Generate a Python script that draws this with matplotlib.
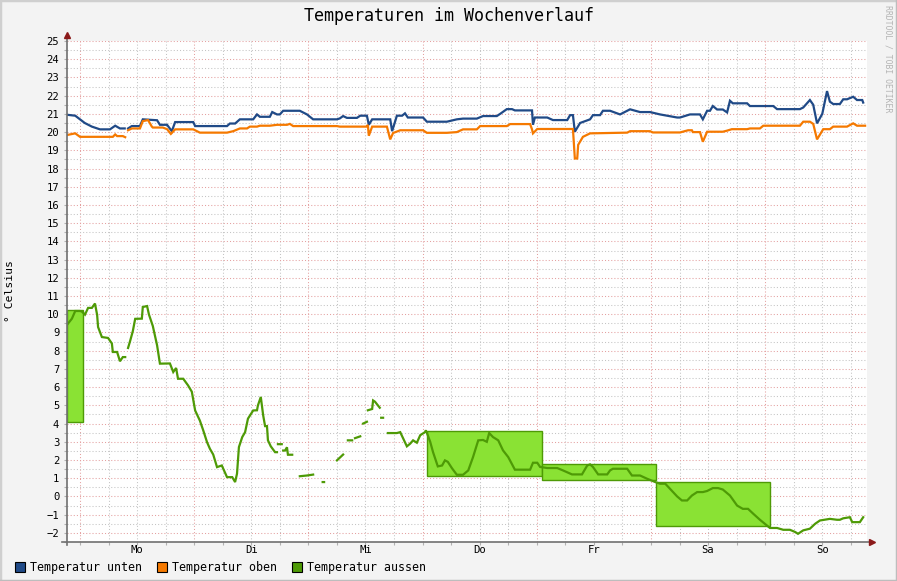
import numpy as np
import matplotlib

matplotlib.use("Agg")

import matplotlib.pyplot as plt  # noqa: E402
from matplotlib.patches import Rectangle  # noqa: E402
from matplotlib.lines import Line2D  # noqa: E402

nan = np.nan

# time axis: hours since Monday 00:00
x_start, x_end = -2.73, 165.4
days = ["Mo", "Di", "Mi", "Do", "Fr", "Sa", "So"]

# (hour, deg C)
unten = [
    (-2.7, 20.95), (-1.0, 20.9), (0.0, 20.7), (1.0, 20.5), (2.5, 20.3), (4.2, 20.15),
    (6.3, 20.15), (7.4, 20.35), (8.4, 20.2), (9.4, 20.2), (9.8, nan), (10.1, 20.2),
    (10.9, 20.33), (12.6, 20.33), (13.2, 20.7), (16.2, 20.65), (16.8, 20.4), (18.3, 20.4),
    (19.3, 20.05), (20.0, 20.55), (23.8, 20.55), (24.2, 20.33), (30.9, 20.33), (31.5, 20.47),
    (32.6, 20.47), (33.6, 20.7), (36.4, 20.7), (37.2, 20.97), (37.8, 20.84), (39.9, 20.84),
    (40.4, 21.1), (41.4, 20.97), (42.0, 20.97), (42.7, 21.17), (46.2, 21.17), (47.7, 20.97),
    (49.0, 20.7), (54.0, 20.7), (54.6, 20.75), (55.3, 20.88), (56.1, 20.78), (58.2, 20.78),
    (58.9, 20.9), (60.3, 20.9), (60.7, 20.4), (61.4, 20.7), (64.5, 20.7), (65.2, 20.7),
    (65.6, 20.05), (66.6, 20.9), (67.7, 20.9), (68.3, 21.03), (68.9, 20.8), (72.1, 20.8),
    (72.9, 20.57), (77.1, 20.57), (79.2, 20.7), (80.5, 20.74), (83.4, 20.74), (84.7, 20.88),
    (87.6, 20.88), (88.3, 21.0), (89.7, 21.26), (90.8, 21.26), (91.4, 21.19), (95.0, 21.19),
    (95.2, 20.4), (95.6, 20.8), (98.2, 20.8), (99.4, 20.66), (102.4, 20.66), (103.0, 20.93),
    (103.6, 20.93), (104.0, 20.02), (105.1, 20.5), (107.2, 20.7), (107.8, 20.93), (109.3, 20.93),
    (109.9, 21.17), (111.4, 21.17), (113.5, 20.97), (115.6, 21.25), (117.7, 21.1), (119.8, 21.1),
    (121.9, 20.97), (125.5, 20.8), (126.1, 20.8), (128.2, 20.97), (130.3, 20.97), (130.9, 20.7),
    (131.8, 21.17), (132.4, 21.17), (133.0, 21.43), (133.9, 21.24), (135.1, 21.24), (136.0, 21.08),
    (136.6, 21.72), (137.2, 21.58), (140.2, 21.58), (140.8, 21.43), (145.7, 21.43), (146.5, 21.26),
    (151.3, 21.26), (152.0, 21.35), (153.4, 21.76), (154.1, 21.5), (154.9, 20.48), (156.0, 21.0),
    (157.0, 22.25), (157.6, 21.67), (158.3, 21.54), (159.7, 21.54), (160.4, 21.8), (161.2, 21.8),
    (162.5, 21.94), (163.3, 21.76), (164.4, 21.76), (164.6, 21.62),
]

oben = [
    (-2.7, 19.84), (-1.0, 19.93), (0.0, 19.74), (6.9, 19.74), (7.4, 19.87), (7.8, 19.78),
    (9.0, 19.78), (9.5, 19.72), (9.8, nan), (10.1, 20.1), (10.9, 20.2), (12.6, 20.2),
    (13.2, 20.6), (14.3, 20.66), (15.1, 20.3), (15.3, 20.25), (17.4, 20.25), (18.3, 20.16),
    (19.1, 19.9), (20.0, 20.15), (23.8, 20.15), (25.2, 19.97), (30.9, 19.97), (32.2, 20.05),
    (33.6, 20.2), (35.1, 20.2), (35.7, 20.3), (37.2, 20.3), (37.8, 20.35), (39.9, 20.35),
    (41.4, 20.4), (43.5, 20.4), (44.1, 20.45), (44.8, 20.33), (54.0, 20.33), (54.6, 20.3),
    (60.3, 20.3), (60.5, 20.4), (60.7, 19.8), (61.4, 20.3), (64.5, 20.3), (65.2, 19.6),
    (65.8, 19.95), (67.3, 20.1), (72.1, 20.1), (72.9, 19.96), (77.1, 19.96), (79.2, 20.0),
    (80.5, 20.15), (83.4, 20.15), (84.1, 20.33), (89.7, 20.33), (90.4, 20.44), (94.6, 20.44),
    (95.0, 20.15), (95.2, 19.93), (96.1, 20.17), (103.6, 20.17), (104.0, 18.55), (104.5, 18.55),
    (104.7, 19.3), (105.7, 19.74), (107.2, 19.93), (115.0, 19.97), (115.6, 20.05), (119.8, 20.05),
    (120.4, 19.98), (126.1, 19.98), (127.8, 20.1), (128.6, 20.1), (128.8, 20.0), (130.3, 20.0),
    (130.9, 19.47), (131.8, 20.02), (135.1, 20.02), (136.0, 20.08), (137.0, 20.16), (140.2, 20.16),
    (140.8, 20.2), (142.9, 20.2), (143.6, 20.35), (151.3, 20.35), (152.0, 20.57), (153.4, 20.57),
    (154.1, 20.45), (154.9, 19.6), (156.2, 20.16), (157.6, 20.16), (158.3, 20.3), (161.2, 20.3),
    (162.5, 20.48), (163.3, 20.35), (165.0, 20.35),
]

aussen = [
    (-2.7, 9.43), (-1.7, 9.76), (-1.0, 10.18), (0.0, 10.18), (0.4, 10.15), (1.05, 9.98),
    (1.7, 10.35), (2.5, 10.35), (3.15, 10.59), (3.6, 9.97), (3.8, 9.3), (4.6, 8.75),
    (5.9, 8.7), (6.7, 8.4), (6.9, 7.93), (7.8, 7.93), (8.4, 7.42), (9.0, 7.65), (9.5, 7.65),
    (9.8, nan), (10.1, 8.15), (10.5, 8.5), (11.1, 9.07), (11.6, 9.75), (13.0, 9.76),
    (13.2, 10.4), (14.1, 10.45), (14.5, 9.98), (15.3, 9.36), (16.2, 8.3), (16.8, 7.29),
    (18.9, 7.3), (19.6, 6.83), (20.2, 7.05), (20.6, 6.46), (21.7, 6.46), (22.7, 6.1),
    (23.5, 5.75), (24.2, 4.72), (25.2, 4.16), (25.9, 3.63), (26.7, 2.98), (27.3, 2.62),
    (28.0, 2.3), (28.8, 1.61), (29.8, 1.7), (30.9, 1.06), (32.0, 1.06), (32.6, 0.79),
    (33.0, 1.25), (33.4, 2.71), (34.1, 3.26), (34.7, 3.53), (35.3, 4.27), (36.4, 4.72),
    (37.2, 4.73), (37.4, 5.0), (38.0, 5.46), (38.5, 4.45), (38.9, 3.86), (39.3, 3.86),
    (39.5, 3.08), (40.1, 2.75), (40.6, 2.57), (41.0, 2.43), (41.4, 2.43), (41.5, nan),
    (41.6, 2.87), (42.4, 2.87), (42.5, nan), (42.7, 2.52), (43.1, 2.52), (43.5, 2.7),
    (43.7, 2.29), (44.6, 2.29), (45.0, nan), (46.2, 1.11), (47.7, 1.15), (49.0, 1.2),
    (49.5, nan), (51.0, 0.79), (51.3, 0.79), (51.6, nan), (54.0, 1.98), (55.3, 2.3),
    (55.8, nan), (56.3, 3.08), (57.2, 3.08), (57.5, nan), (57.8, 3.2), (58.9, 3.3),
    (59.2, nan), (59.5, 4.0), (60.3, 4.1), (60.4, nan), (60.5, 4.73), (61.4, 4.8),
    (61.6, 5.27), (62.0, 5.2), (63.0, 4.87), (63.1, nan), (63.3, 4.32), (63.7, 4.32),
    (64.2, nan), (64.7, 3.48), (66.6, 3.48), (67.3, 3.53), (67.9, 3.2), (68.7, 2.75),
    (69.4, 2.9), (70.0, 3.08), (70.8, 2.95), (71.5, 3.36), (72.5, 3.53), (72.7, 3.63),
    (73.6, 3.0), (74.2, 2.43), (75.2, 1.65), (76.1, 1.7), (76.7, 1.98), (77.3, 1.9),
    (78.2, 1.54), (79.2, 1.19), (80.5, 1.19), (81.6, 1.43), (82.6, 2.16), (83.7, 3.08),
    (84.7, 3.1), (85.5, 3.0), (86.0, 3.48), (86.8, 3.26), (87.9, 3.08), (88.9, 2.53),
    (90.0, 2.16), (91.4, 1.47), (94.6, 1.47), (95.2, 1.85), (96.1, 1.85), (96.7, 1.62),
    (98.2, 1.56), (100.3, 1.56), (101.5, 1.43), (103.4, 1.21), (105.5, 1.21), (106.6, 1.7),
    (107.2, 1.76), (107.8, 1.62), (108.9, 1.21), (110.8, 1.21), (111.4, 1.43), (112.0, 1.52),
    (115.0, 1.52), (116.0, 1.15), (117.7, 1.15), (119.2, 0.97), (120.9, 0.79), (121.9, 0.7),
    (123.0, 0.7), (124.0, 0.42), (125.5, 0.0), (126.5, -0.22), (127.6, -0.22), (128.6, 0.05),
    (129.7, 0.24), (130.9, 0.24), (131.8, 0.3), (133.0, 0.46), (134.1, 0.46), (135.1, 0.38),
    (136.6, 0.05), (138.1, -0.5), (139.3, -0.68), (140.4, -0.68), (141.5, -0.95), (142.9, -1.28),
    (144.4, -1.6), (145.0, -1.73), (146.5, -1.73), (147.8, -1.83), (149.2, -1.83), (150.3, -1.95),
    (150.9, -2.05), (152.0, -1.86), (153.4, -1.77), (154.5, -1.5), (155.5, -1.32), (157.6, -1.23),
    (159.1, -1.28), (159.7, -1.28), (160.4, -1.2), (161.8, -1.14), (162.3, -1.41), (163.9, -1.41),
    (164.6, -1.14),
]

# daily min/max boxes of the outside temperature
box_start = [x_start, 73.0, 97.0, 121.0]
box_end = [0.65, 97.0, 121.0, 145.0]
box_min = [4.08, 1.15, 0.92, -1.63]
box_max = [10.26, 3.57, 1.8, 0.82]

series_names = ["Temperatur unten", "Temperatur oben", "Temperatur aussen"]

BG = "#f3f3f3"
C_UNTEN = "#204a87"
C_OBEN = "#f57900"
C_AUSSEN = "#4e9a06"
C_FILL = "#8ae234"
GRID = "#c4c4c4"
MGRID = "#e4a0a0"
ARROW = "#8b1a1a"
AXIS = "#707070"
MONO = "DejaVu Sans Mono"

W, H = 897, 581


def fx(px):
    return px / W


def fy(py):
    return 1 - py / H


fig = plt.figure(figsize=(W / 100, H / 100), dpi=100, facecolor=BG)
ax = fig.add_axes([fx(67), fy(542), fx(867) - fx(67), fy(41) - fy(542)])
ax.set_facecolor("white")
ax.set_xlim(x_start, x_end)
ax.set_ylim(-2.5, 25)

# grid
ax.set_axisbelow(True)
major_x = np.arange(0, 168, 24)
minor_x = [h for h in range(6, 166, 6) if h % 24]
ax.set_xticks(major_x)
ax.set_xticks(minor_x, minor=True)
ax.set_xticklabels([])
ax.set_yticks(np.arange(-2, 26, 1))
ax.set_yticks(np.arange(-2.5, 25, 1), minor=True)
ax.grid(which="major", color=MGRID, ls=(0, (1, 2)), lw=0.75)
ax.grid(which="minor", color=GRID, ls=(0, (1, 2)), lw=0.75)
ax.tick_params(which="both", length=2, width=0.8, color="#b0b0b0", direction="out")
ax.tick_params(axis="y", pad=3.5, labelsize=7.6, labelcolor="black")
for lab in ax.get_yticklabels():
    lab.set_family(MONO)
for sp in ax.spines.values():
    sp.set_visible(False)

xt = ax.get_xaxis_transform()
for i, d in enumerate(days):
    ax.text(12 + 24 * i, -0.016, d, transform=xt, ha="center", va="center",
            fontsize=7.6, family=MONO)

# min/max boxes
ax.bar(box_start, np.subtract(box_max, box_min), width=np.subtract(box_end, box_start),
       bottom=box_min, align="edge", color=C_FILL, edgecolor=C_AUSSEN, lw=1.0, zorder=2)

for data, col in ((unten, C_UNTEN), (oben, C_OBEN), (aussen, C_AUSSEN)):
    h, t = np.array(data).T
    ax.plot(h, t, color=col, lw=1.6, zorder=3, solid_joinstyle="miter")

# axes with arrows
ax.plot([0, 0], [-0.006, 1.01], color=AXIS, lw=1.2, transform=ax.transAxes, clip_on=False, zorder=4)
ax.plot([-0.006, 1.004], [0, 0], color=AXIS, lw=1.2, transform=ax.transAxes, clip_on=False, zorder=4)
ax.plot(0, 1.012, marker="^", ms=4.5, color=ARROW, transform=ax.transAxes, clip_on=False, zorder=5)
ax.plot(1.006, 0, marker=">", ms=4.5, color=ARROW, transform=ax.transAxes, clip_on=False, zorder=5)

# texts
fig.text(0.5, fy(16), "Temperaturen im Wochenverlauf", ha="center", va="center",
         fontsize=12, family=MONO)
fig.text(fx(10), fy(291), "° Celsius", rotation=90, ha="center", va="center",
         fontsize=8.2, family=MONO)
fig.text(fx(888), fy(5), "RRDTOOL / TOBI OETIKER", rotation=270, ha="center", va="top",
         fontsize=5.9, family=MONO, color="#b4b4b4")

# legend
for name, col, x0 in zip(series_names, (C_UNTEN, C_OBEN, C_AUSSEN), (15, 157, 292)):
    fig.patches.append(Rectangle((fx(x0), fy(572)), fx(10), 10 / H, transform=fig.transFigure,
                                 facecolor=col, edgecolor="black", lw=0.8))
    fig.text(fx(x0 + 15), fy(567), name, ha="left", va="center", fontsize=8.4, family=MONO)

# frame
fig.add_artist(Line2D([0, 0, 1], [0, 1, 1], transform=fig.transFigure, color="#cfcfcf", lw=2.5))
fig.add_artist(Line2D([0, 1, 1], [0, 0, 1], transform=fig.transFigure, color="#bdbdbd", lw=2.5))

fig.savefig("out.png", dpi=100, facecolor=BG)
